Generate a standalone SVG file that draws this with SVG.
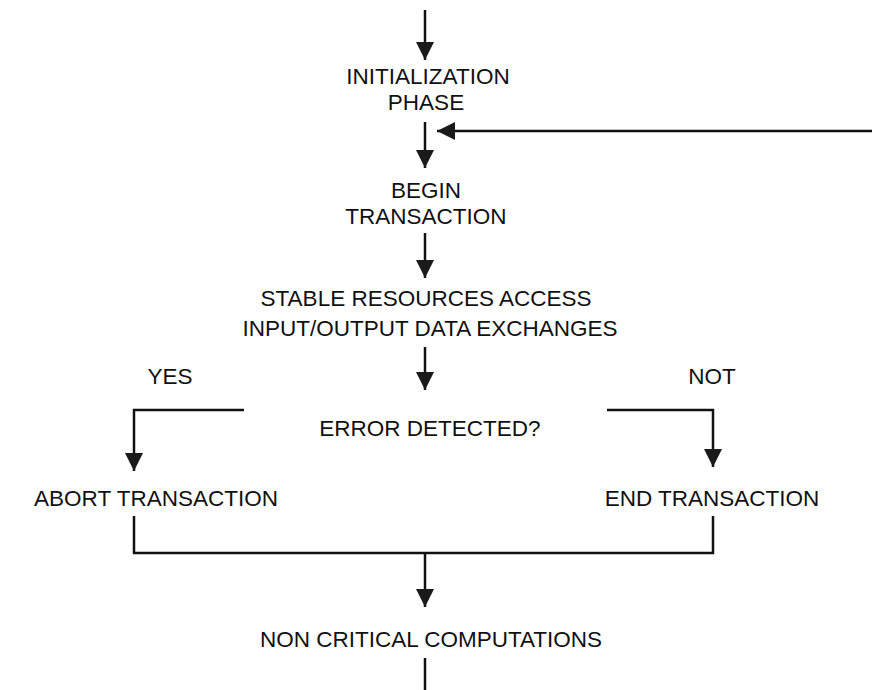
<svg xmlns="http://www.w3.org/2000/svg" width="878" height="690" viewBox="0 0 878 690">
<defs>
<style>
text{font-family:"Liberation Sans",Arial,sans-serif;font-size:22.5px;fill:#111;text-anchor:middle}
.ln{stroke:#111;stroke-width:2.5;fill:none}
.ah{fill:#1a1a1a}
</style>
<marker id="arr" viewBox="0 0 18 18" refX="18" refY="9" markerWidth="18" markerHeight="18" markerUnits="userSpaceOnUse" orient="auto">
<path d="M0,0 L18,9 L0,18 Z" class="ah"/>
</marker>
</defs>
<rect width="878" height="690" fill="#fff"/>
<g id="connectors">
<line class="ln" x1="425" y1="10" x2="425" y2="60" marker-end="url(#arr)"/>
<line class="ln" x1="425" y1="122" x2="425" y2="168" marker-end="url(#arr)"/>
<line class="ln" x1="872" y1="131" x2="437" y2="131" marker-end="url(#arr)"/>
<line class="ln" x1="425" y1="233" x2="425" y2="278" marker-end="url(#arr)"/>
<line class="ln" x1="425" y1="347" x2="425" y2="390" marker-end="url(#arr)"/>
<path class="ln" d="M244,410 H134 V471" marker-end="url(#arr)"/>
<path class="ln" d="M607,410 H713 V467" marker-end="url(#arr)"/>
<path class="ln" d="M134,516 V553 H713 V516"/>
<line class="ln" x1="425" y1="553" x2="425" y2="607" marker-end="url(#arr)"/>
<line class="ln" x1="425" y1="658" x2="425" y2="690"/>
</g>
<g id="init"><text x="428" y="84">INITIALIZATION</text><text x="426" y="110">PHASE</text></g>
<g id="begin"><text x="426" y="198">BEGIN</text><text x="426" y="224">TRANSACTION</text></g>
<g id="stable"><text x="426" y="306">STABLE RESOURCES ACCESS</text><text x="430" y="336">INPUT/OUTPUT DATA EXCHANGES</text></g>
<g id="yes"><text x="170" y="384">YES</text></g>
<g id="not"><text x="712" y="384">NOT</text></g>
<g id="error"><text x="430" y="436">ERROR DETECTED?</text></g>
<g id="abort"><text x="156" y="506">ABORT TRANSACTION</text></g>
<g id="end"><text x="712" y="506">END TRANSACTION</text></g>
<g id="noncrit"><text x="431" y="647">NON CRITICAL COMPUTATIONS</text></g>
</svg>
